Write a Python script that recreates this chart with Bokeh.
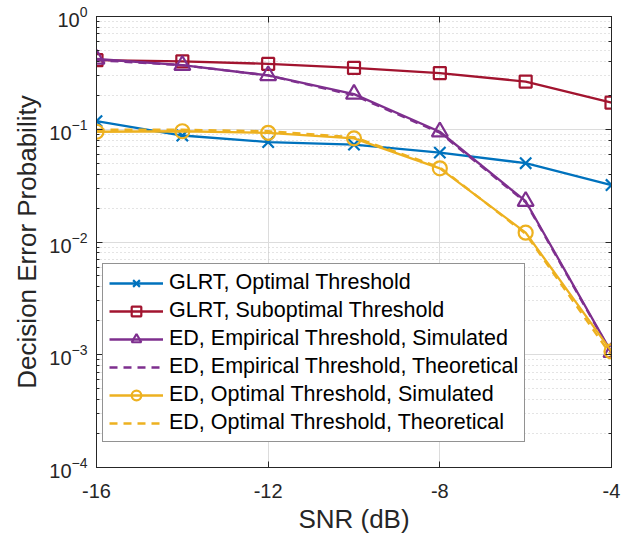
from bokeh.plotting import figure
from bokeh.models import (FixedTicker, LinearAxis, LogAxis, Legend, LegendItem, LogTicker,
                          CustomJSTickFormatter)
from bokeh.embed import file_html
from bokeh.resources import INLINE

snr = [-16, -14, -12, -10, -8, -6, -4]
glrt_opt = [0.118, 0.088, 0.077, 0.073, 0.062, 0.050, 0.032]
glrt_sub = [0.41, 0.40, 0.38, 0.35, 0.315, 0.265, 0.172]
ed_emp_sim = [0.42, 0.37, 0.30, 0.205, 0.095, 0.023, 0.00105]
ed_emp_th = [0.41, 0.37, 0.30, 0.20, 0.093, 0.0225, 0.00103]
ed_opt_sim = [0.095, 0.096, 0.093, 0.083, 0.045, 0.0121, 0.00107]
ed_opt_th = [0.099, 0.099, 0.096, 0.085, 0.046, 0.0118, 0.00098]
x_ticks = [-16, -12, -8, -4]

labels = ["GLRT, Optimal Threshold", "GLRT, Suboptimal Threshold",
          "ED, Empirical Threshold, Simulated", "ED, Empirical Threshold, Theoretical",
          "ED, Optimal Threshold, Simulated", "ED, Optimal Threshold, Theoretical"]

BLUE = "#0072BD"
RED = "#A2142F"
PURPLE = "#7E2F8E"
YELLOW = "#EDB120"
AX = "#262626"
FONT = "Liberation Sans"

p = figure(width=623, height=539, x_range=(-16, -4), y_range=(1e-4, 1),
           y_axis_type="log", output_backend="svg", toolbar_location=None,
           min_border_left=96, min_border_right=12, min_border_top=16, min_border_bottom=72)
p.outline_line_color = AX
p.outline_line_width = 1
p.background_fill_color = "white"

# axes
p.xaxis.ticker = FixedTicker(ticks=x_ticks)
p.xaxis.formatter = CustomJSTickFormatter(code="return tick.toString();")
p.xaxis.axis_label = "SNR (dB)"
p.yaxis.axis_label = "Decision Error Probability"
for ax in [p.xaxis[0], p.yaxis[0]]:
    ax.axis_label_text_font = FONT
    ax.axis_label_text_font_size = "26px"
    ax.axis_label_text_font_style = "normal"
    ax.axis_label_text_color = AX
    ax.major_label_text_font = FONT
    ax.major_label_text_font_size = "20px"
    ax.major_label_text_color = AX
    ax.axis_line_color = AX
    ax.major_tick_line_color = AX
    ax.minor_tick_line_color = AX
    ax.major_tick_in = 6
    ax.major_tick_out = 0
    ax.minor_tick_in = 3
    ax.minor_tick_out = 0
p.xaxis.minor_tick_line_color = None
p.xaxis.major_label_standoff = 16
p.xaxis.axis_label_standoff = 3
p.yaxis.major_label_standoff = 9
p.yaxis.axis_label_standoff = 4

blank = CustomJSTickFormatter(code="return '';")
top = LinearAxis(ticker=FixedTicker(ticks=x_ticks), formatter=blank,
                 major_label_text_font_size="8px",
                 major_tick_in=6, major_tick_out=0, minor_tick_line_color=None,
                 axis_line_color=AX, major_tick_line_color=AX, major_label_standoff=0)
right = LogAxis(ticker=LogTicker(), formatter=blank, major_label_text_font_size="8px",
                major_tick_in=6, major_tick_out=0, minor_tick_in=3, minor_tick_out=0,
                axis_line_color=AX, major_tick_line_color=AX, minor_tick_line_color=AX,
                major_label_standoff=0)
p.add_layout(top, "above")
p.add_layout(right, "right")

# grids
p.xgrid.ticker = FixedTicker(ticks=x_ticks)
p.xgrid.grid_line_color = "#dcdcdc"
p.ygrid.grid_line_color = "#dcdcdc"
p.ygrid.minor_grid_line_color = "#c8c8c8"
p.ygrid.minor_grid_line_dash = "1 3"

lw = 2.3
r1 = p.line(snr, glrt_opt, line_color=BLUE, line_width=lw)
m1 = p.scatter(snr, glrt_opt, marker="x", size=16, line_color=BLUE, line_width=2.2)
r2 = p.line(snr, glrt_sub, line_color=RED, line_width=lw)
m2 = p.scatter(snr, glrt_sub, marker="square", size=12, line_color=RED, fill_color=None, line_width=2.2)
r3 = p.line(snr, ed_emp_sim, line_color=PURPLE, line_width=lw)
m3 = p.scatter(snr, ed_emp_sim, marker="triangle", size=16, line_color=PURPLE, fill_color=None, line_width=2.2)
r4 = p.line(snr, ed_emp_th, line_color=PURPLE, line_width=lw, line_dash="8 6")
r5 = p.line(snr, ed_opt_sim, line_color=YELLOW, line_width=lw)
m5 = p.scatter(snr, ed_opt_sim, marker="circle", size=14, line_color=YELLOW, fill_color=None, line_width=2.2)
r6 = p.line(snr, ed_opt_th, line_color=YELLOW, line_width=lw, line_dash="8 6")

items = [LegendItem(label=labels[0], renderers=[r1, m1]),
         LegendItem(label=labels[1], renderers=[r2, m2]),
         LegendItem(label=labels[2], renderers=[r3, m3]),
         LegendItem(label=labels[3], renderers=[r4]),
         LegendItem(label=labels[4], renderers=[r5, m5]),
         LegendItem(label=labels[5], renderers=[r6])]
leg = Legend(items=items, location=(6, 25), label_text_font=FONT, label_text_font_size="21.5px",
             label_text_color="black", glyph_width=54, glyph_height=24, label_height=24,
             spacing=3, padding=6, margin=0, label_standoff=6,
             border_line_color=AX, border_line_width=1, background_fill_alpha=1)
p.add_layout(leg)

open("out.html", "w").write(file_html(p, INLINE))
